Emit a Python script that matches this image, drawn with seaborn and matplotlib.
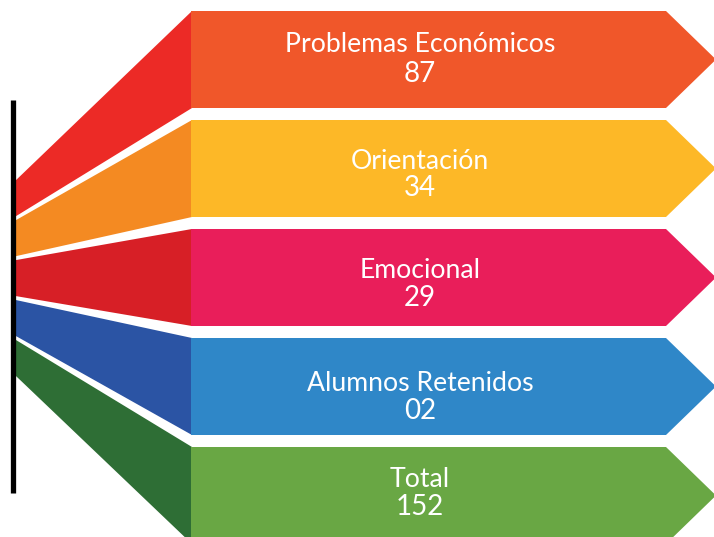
import matplotlib
matplotlib.use("Agg")
import matplotlib.pyplot as plt
from matplotlib.patches import Polygon
import seaborn as sns

# ---- data ----
categories = ["Problemas Económicos", "Orientación", "Emocional", "Alumnos Retenidos", "Total"]
values = ["87", "34", "29", "02", "152"]
box_colors = ["#F0572A", "#FDB827", "#E91E5A", "#2F87C8", "#69A744"]
side_colors = ["#EC2A26", "#F48A22", "#D71F26", "#2B54A4", "#2E6E35"]

# ---- layout (pixel-like units) ----
W, H = 714, 537
box_left, box_body_right, box_tip = 191, 666, 716
box_top0, box_pitch, box_h = 11, 109, 97
side_left, side_top0, side_pitch, side_h = 15, 183, 38.8, 35
text_x = 420
label_off = [34, 41.5, 41.5, 45.5, 32.5]
value_off = [63, 68.5, 69.5, 73, 60]

sns.set_theme(style="white")
plt.rcParams['font.family'] = ['Lato', 'DejaVu Sans']

fig = plt.figure(figsize=(W / 100, H / 100), dpi=100)
ax = fig.add_axes([0, 0, 1, 1])
ax.set_xlim(0, W)
ax.set_ylim(H, 0)
ax.axis("off")

for i, (cat, val) in enumerate(zip(categories, values)):
    top = box_top0 + i * box_pitch
    bot = top + box_h
    mid = (top + bot) / 2
    # side trapezoid
    st = side_top0 + i * side_pitch
    sb = st + side_h
    ax.add_patch(Polygon([(side_left - 2, st), (box_left + 1, top), (box_left + 1, bot), (side_left - 2, sb)],
                         closed=True, facecolor=side_colors[i], edgecolor="none", zorder=1))
    # arrow box
    ax.add_patch(Polygon([(box_left, top), (box_body_right, top), (box_tip, mid),
                          (box_body_right, bot), (box_left, bot)],
                         closed=True, facecolor=box_colors[i], edgecolor="none", zorder=2))
    ax.text(text_x, top + label_off[i], cat, color="white", fontsize=19.2,
            ha="center", va="center", zorder=3)
    ax.text(text_x, top + value_off[i], val, color="white", fontsize=20,
            ha="center", va="center", zorder=3)

# black vertical line
ax.plot([12.5, 12.5], [100, 493], color="black", linewidth=3.8, solid_capstyle="butt", zorder=4)

fig.savefig("out.png", dpi=100)
